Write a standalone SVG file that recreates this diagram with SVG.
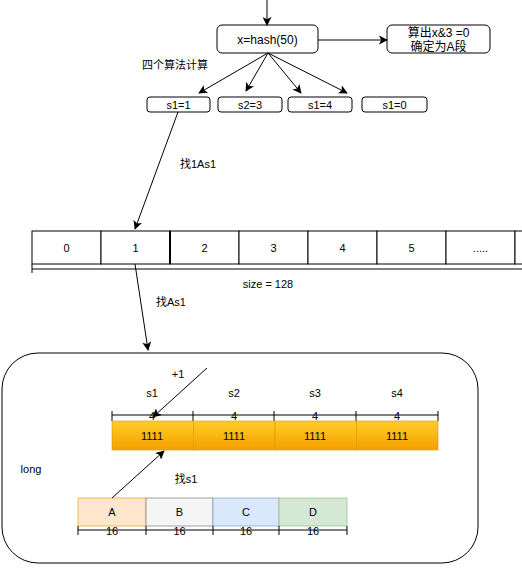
<svg xmlns="http://www.w3.org/2000/svg" width="522" height="579" viewBox="0 0 522 579">
<style>
text{font-family:"Liberation Sans",Arial,"Noto Sans CJK SC",sans-serif;font-size:11px;fill:#000;text-anchor:middle;dominant-baseline:central}
.big{font-size:12px}
.box{fill:#fff;stroke:#000;stroke-width:1}
.ln{stroke:#000;stroke-width:1;fill:none}
.cell{fill:#fff;stroke:#000;stroke-width:1}
.org{stroke:#d79b00;stroke-width:0.6;fill:url(#og)}
</style>
<defs>
<marker id="ah" viewBox="0 0 10 10" refX="9" refY="5" markerWidth="9" markerHeight="9" orient="auto" markerUnits="userSpaceOnUse">
<path d="M0,0 L10,5 L0,10 L2.5,5 Z" fill="#000"/>
</marker>
<linearGradient id="og" x1="0" y1="0" x2="0" y2="1">
<stop offset="0" stop-color="#ffcd28"/>
<stop offset="1" stop-color="#f5a000"/>
</linearGradient>
</defs>

<g id="hash"><rect class="box" x="217" y="25" width="101" height="28" rx="5"/><text class="big" x="267.5" y="39.5">x=hash(50)</text></g>
<g id="result"><rect class="box" x="387" y="25" width="103" height="28" rx="5"/><text class="big" x="438.5" y="32.5">算出x&amp;3 =0</text><text class="big" x="438.5" y="47">确定为A段</text></g>
<g id="label-algo"><text x="175" y="65">四个算法计算</text></g>
<g id="s1a"><rect class="box" x="147" y="97" width="63" height="15" rx="3"/><text x="178.5" y="104.5">s1=1</text></g>
<g id="s2b"><rect class="box" x="218" y="97" width="64" height="15" rx="3"/><text x="250" y="104.5">s2=3</text></g>
<g id="s1c"><rect class="box" x="288" y="97" width="64" height="15" rx="3"/><text x="320" y="104.5">s1=4</text></g>
<g id="s1d"><rect class="box" x="362" y="97" width="65" height="15" rx="3"/><text x="394.5" y="104.5">s1=0</text></g>
<g id="label-find1"><text x="198" y="164">找1As1</text></g>

<g id="array">
<rect class="cell" x="32" y="231" width="69" height="33"/><text x="66.5" y="247.5">0</text>
<rect class="cell" x="101" y="231" width="69" height="33"/><text x="135.5" y="247.5">1</text>
<rect class="cell" x="170" y="231" width="69" height="33"/><text x="204.5" y="247.5">2</text>
<rect class="cell" x="239" y="231" width="69" height="33"/><text x="273.5" y="247.5">3</text>
<rect class="cell" x="308" y="231" width="69" height="33"/><text x="342.5" y="247.5">4</text>
<rect class="cell" x="377" y="231" width="69" height="33"/><text x="411.5" y="247.5">5</text>
<rect class="cell" x="446" y="231" width="69" height="33"/><text x="480.5" y="247.5">.....</text>
<rect class="cell" x="515" y="231" width="69" height="33"/>
<path d="M170,231 V264" stroke="#000" stroke-width="2"/>
<path class="ln" d="M32,269 H522 M32,264 V273"/>
<text x="268" y="284">size = 128</text>
</g>
<g id="label-findA"><text x="171" y="302">找As1</text></g>

<g id="long">
<rect class="box" x="2" y="353" width="476" height="210" rx="36"/>
<text x="31" y="469">long</text>
<text x="152" y="393">s1</text><text x="234" y="393">s2</text><text x="315" y="393">s3</text><text x="397" y="393">s4</text>
<text x="152" y="416">4</text><text x="234" y="416">4</text><text x="315" y="416">4</text><text x="397" y="416">4</text>
<path class="ln" d="M112,415 H438 M112,411 V421 M193,411 V421 M274,411 V421 M356,411 V421 M438,411 V421"/>
<rect class="org" x="112" y="421" width="81.5" height="29"/>
<rect class="org" x="193.5" y="421" width="81.5" height="29"/>
<rect class="org" x="275" y="421" width="81.5" height="29"/>
<rect class="org" x="356.5" y="421" width="81.5" height="29"/>
<text x="152" y="436">1111</text><text x="234" y="436">1111</text><text x="315" y="436">1111</text><text x="397" y="436">1111</text>
<text x="178" y="374">+1</text>
<text x="186" y="479">找s1</text>
</g>
<g id="segA"><rect x="78" y="498" width="68" height="28" fill="#ffe6cc" stroke="#d79b00" stroke-width="0.6"/><text x="112" y="512">A</text></g>
<g id="segB"><rect x="146" y="498" width="67" height="28" fill="#f5f5f5" stroke="#666" stroke-width="0.6"/><text x="179.5" y="512">B</text></g>
<g id="segC"><rect x="213" y="498" width="66" height="28" fill="#dae8fc" stroke="#6c8ebf" stroke-width="0.6"/><text x="246" y="512">C</text></g>
<g id="segD"><rect x="279" y="498" width="68" height="28" fill="#d5e8d4" stroke="#82b366" stroke-width="0.6"/><text x="313" y="512">D</text></g>
<g id="dims16">
<text x="112" y="531">16</text><text x="179.5" y="531">16</text><text x="246" y="531">16</text><text x="313" y="531">16</text>
<path class="ln" d="M78,530 H347 M78,526 V535 M146,526 V535 M213,526 V535 M279,526 V535 M347,526 V535"/>
</g>

<g id="connectors">
<path class="ln" marker-end="url(#ah)" d="M267,0 V25"/>
<path class="ln" marker-end="url(#ah)" d="M318,40 H387"/>
<path class="ln" marker-end="url(#ah)" d="M268,53 L199,93"/>
<path class="ln" marker-end="url(#ah)" d="M268,53 L246,91"/>
<path class="ln" marker-end="url(#ah)" d="M268,53 L301,93"/>
<path class="ln" marker-end="url(#ah)" d="M268,53 L347,93"/>
<path class="ln" marker-end="url(#ah)" d="M178,112 L135,229"/>
<path class="ln" marker-end="url(#ah)" d="M135,264 L148,350"/>
<path class="ln" marker-end="url(#ah)" d="M207,368 L153,417"/>
<path class="ln" marker-end="url(#ah)" d="M112,498 L164,451"/>
</g>
</svg>
